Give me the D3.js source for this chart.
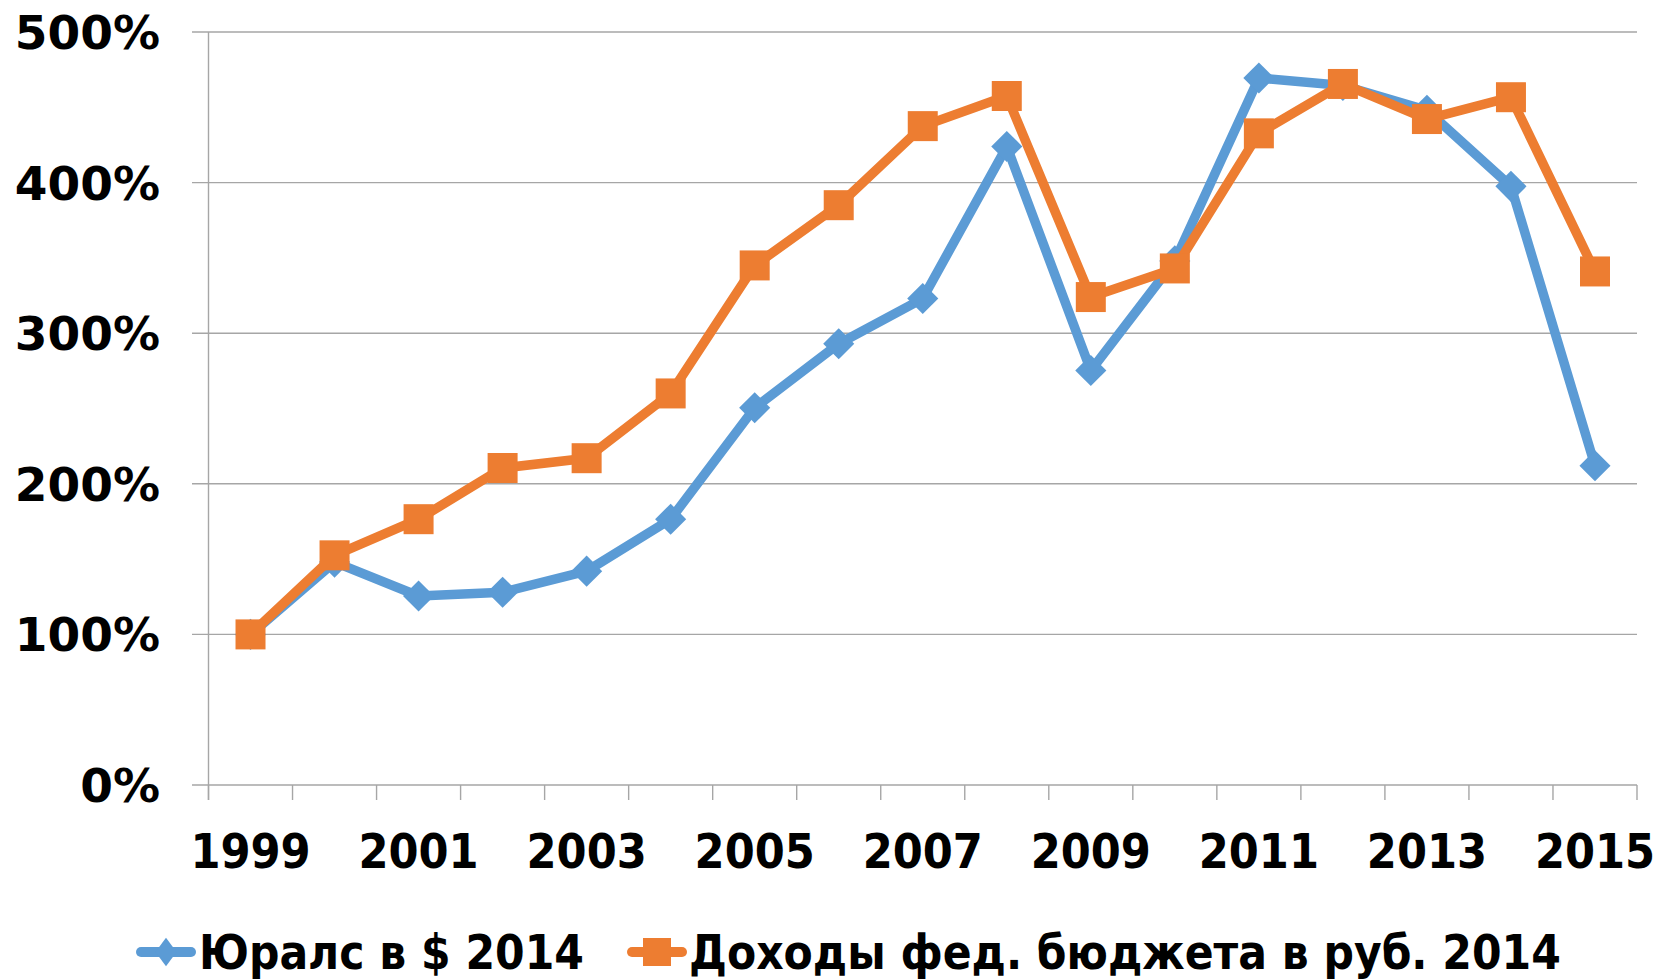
<!DOCTYPE html>
<html>
<head>
<meta charset="utf-8">
<script src="https://cdnjs.cloudflare.com/ajax/libs/d3/7.8.5/d3.min.js"></script>
<style>
  html, body { margin: 0; padding: 0; background: #fff; }
  svg text { font-family: "DejaVu Sans Condensed", "DejaVu Sans", sans-serif; font-weight: bold; font-stretch: condensed; fill: #000; }
  svg text.ylab { font-family: "DejaVu Sans", sans-serif; font-stretch: normal; }
</style>
</head>
<body>
<svg id="chart" width="1659" height="979"></svg>
<script>
const years = ["1999","2000","2001","2002","2003","2004","2005","2006","2007","2008","2009","2010","2011","2012","2013","2014","2015"];
const uralsValues = [1.00, 1.48, 1.255, 1.28, 1.42, 1.765, 2.505, 2.93, 3.23, 4.24, 2.752, 3.48, 4.695, 4.645, 4.48, 3.975, 2.12];
const budgetValues = [1.00, 1.525, 1.765, 2.105, 2.17, 2.60, 3.45, 3.85, 4.375, 4.575, 3.24, 3.43, 4.327, 4.655, 4.422, 4.567, 3.41];
const yTicks = [0, 1, 2, 3, 4, 5];
const yTickLabels = ["0%", "100%", "200%", "300%", "400%", "500%"];
const xLabelYears = ["1999","2001","2003","2005","2007","2009","2011","2013","2015"];
const seriesNames = ["Юралс в $ 2014", "Доходы фед. бюджета в руб. 2014"];

const blue = "#5B9BD5", orange = "#ED7D31", grid = "#A6A6A6";
const svg = d3.select("#chart");

const x = d3.scaleBand().domain(years).range([208.5, 1637]).padding(0);
const y = d3.scaleLinear().domain([0, 5]).range([785, 32]);
const cx = d => x(d) + x.bandwidth() / 2;

// gridlines
svg.append("g").selectAll("line").data(yTicks).join("line")
  .attr("x1", 192).attr("x2", x.range()[1])
  .attr("y1", d => y(d)).attr("y2", d => y(d))
  .attr("stroke", grid).attr("stroke-width", 1.4);

// y axis line
svg.append("line").attr("x1", x.range()[0]).attr("x2", x.range()[0])
  .attr("y1", y(5)).attr("y2", y(0) + 15)
  .attr("stroke", grid).attr("stroke-width", 1.4);

// x ticks at band boundaries
const boundaries = years.map(d => x(d)).concat([x.range()[1]]);
svg.append("g").selectAll("line").data(boundaries).join("line")
  .attr("x1", d => d).attr("x2", d => d)
  .attr("y1", y(0)).attr("y2", y(0) + 15)
  .attr("stroke", grid).attr("stroke-width", 1.4);

// y labels
svg.append("g").selectAll("text").data(yTicks).join("text")
  .attr("class", "ylab")
  .attr("x", 160).attr("y", d => y(d) + 17)
  .attr("text-anchor", "end").attr("font-size", 47)
  .text((d, i) => yTickLabels[i]);

// x labels
svg.append("g").selectAll("text").data(xLabelYears).join("text")
  .attr("x", d => cx(d)).attr("y", 868)
  .attr("text-anchor", "middle").attr("font-size", 48)
  .text(d => d);

const line = d3.line().x((d, i) => cx(years[i])).y(d => y(d));

// Urals series
svg.append("path").datum(uralsValues).attr("d", line)
  .attr("fill", "none").attr("stroke", blue).attr("stroke-width", 9.5)
  .attr("stroke-linejoin", "round");
const diamond = d3.symbol().type(d3.symbolSquare).size(22 * 22);
svg.append("g").selectAll("path").data(uralsValues).join("path")
  .attr("d", diamond)
  .attr("transform", (d, i) => `translate(${cx(years[i])},${y(d)}) rotate(45)`)
  .attr("fill", blue);

// Budget series
svg.append("path").datum(budgetValues).attr("d", line)
  .attr("fill", "none").attr("stroke", orange).attr("stroke-width", 9.5)
  .attr("stroke-linejoin", "round");
const square = d3.symbol().type(d3.symbolSquare).size(30 * 30);
svg.append("g").selectAll("path").data(budgetValues).join("path")
  .attr("d", square)
  .attr("transform", (d, i) => `translate(${cx(years[i])},${y(d)})`)
  .attr("fill", orange);

// Legend
const legendY = 952;
const legendItems = [
  { name: seriesNames[0], color: blue, x0: 141, x1: 191, mx: 166, textX: 199, type: "diamond" },
  { name: seriesNames[1], color: orange, x0: 632, x1: 682, mx: 657, textX: 689, type: "square" }
];
const lg = svg.append("g").selectAll("g").data(legendItems).join("g");
lg.append("line")
  .attr("x1", d => d.x0).attr("x2", d => d.x1)
  .attr("y1", legendY).attr("y2", legendY)
  .attr("stroke", d => d.color).attr("stroke-width", 10).attr("stroke-linecap", "round");
lg.append("path")
  .attr("d", d => d.type === "square" ? d3.symbol().type(d3.symbolSquare).size(28 * 28)() : d3.symbol().type(d3.symbolSquare).size(20 * 20)())
  .attr("transform", d => d.type === "square" ? `translate(${d.mx},${legendY})` : `translate(${d.mx},${legendY}) scale(0.75,1) rotate(45)`)
  .attr("fill", d => d.color);
lg.append("text")
  .attr("x", d => d.textX).attr("y", 969)
  .attr("font-size", 47.3)
  .text(d => d.name);
</script>
</body>
</html>
